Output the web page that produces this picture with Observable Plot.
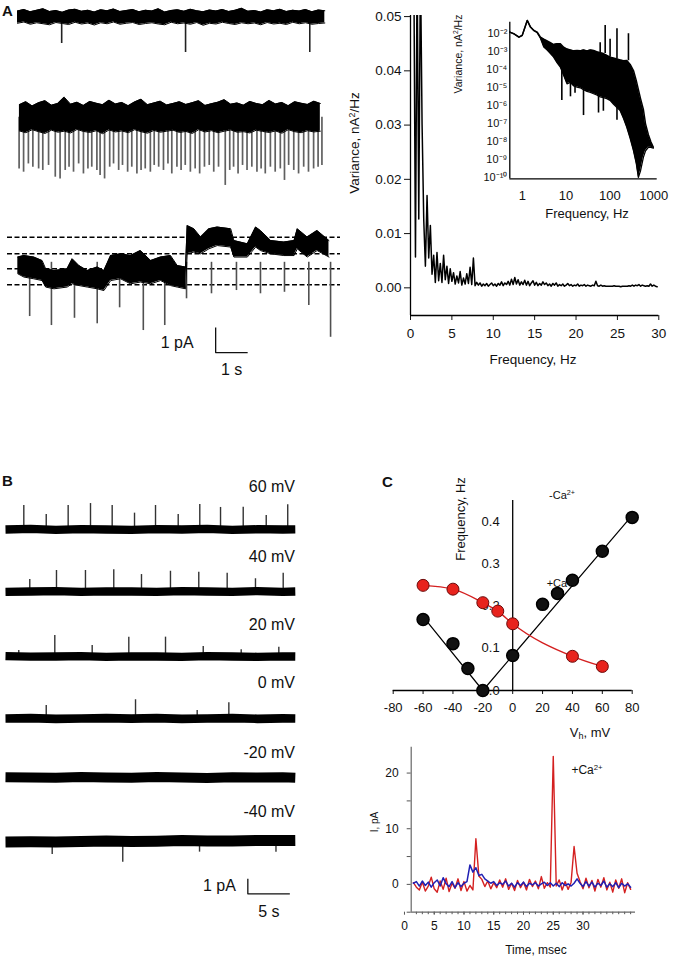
<!DOCTYPE html>
<html><head><meta charset="utf-8">
<script src="https://cdn.jsdelivr.net/npm/d3@7"></script>
<script src="https://cdn.jsdelivr.net/npm/@observablehq/plot@0.6"></script>
<style>
html,body{margin:0;padding:0;background:#fff;}
#page{position:relative;width:675px;height:959px;overflow:hidden;font-family:'Liberation Sans',Arial,Helvetica,sans-serif;color:#111;}
sup{font-size:0.65em;vertical-align:0.5em;line-height:0}
sub{font-size:0.7em;vertical-align:-0.25em;line-height:0}
</style></head><body><div id="page"></div>
<script>
const FONT = "'Liberation Sans', Arial, Helvetica, sans-serif";

// ================= DATA =================
// Panel A, trace 1 (time s, current pA) — envelope of noisy baseline
const a1Start = 0, a1Step = 0.2;
const a1Hi = [0.24,0.30,0.21,0.27,0.33,0.22,0.26,0.19,0.28,0.31,0.23,0.27,0.20,0.29,0.25,0.32,0.22,0.26,0.30,0.21,0.27,0.24,0.33,0.20,0.26,0.29,0.23,0.31,0.25,0.21,0.28,0.24,0.30,0.22,0.27,0.35,0.23,0.26,0.20,0.29,0.25,0.31,0.22,0.27,0.24,0.30,0.21,0.28,0.25];
const a1Lo = [-0.25,-0.20,-0.29,-0.23,-0.27,-0.31,-0.22,-0.26,-0.30,-0.21,-0.28,-0.24,-0.32,-0.23,-0.27,-0.20,-0.29,-0.25,-0.22,-0.30,-0.26,-0.23,-0.28,-0.31,-0.21,-0.27,-0.24,-0.29,-0.22,-0.33,-0.25,-0.28,-0.21,-0.26,-0.30,-0.23,-0.27,-0.24,-0.31,-0.22,-0.28,-0.25,-0.30,-0.21,-0.27,-0.23,-0.29,-0.26,-0.24];
const a1SpikeTime = [1.38, 5.25, 9.13];
const a1SpikeDepth = [-1.06, -1.42, -1.42];

// Panel A, trace 2
const a2Start = 0.06, a2Step = 0.2;
const a2Hi = [0.50,0.62,0.45,0.58,0.66,0.48,0.55,0.80,0.52,0.60,0.47,0.63,0.56,0.50,0.68,0.53,0.59,0.46,0.61,0.72,0.50,0.57,0.64,0.49,0.55,0.62,0.51,0.58,0.66,0.47,0.54,0.60,0.70,0.52,0.57,0.48,0.63,0.55,0.50,0.67,0.53,0.59,0.46,0.62,0.56,0.51,0.64,0.55];
const a2Lo = [-0.55,-0.62,-0.50,-0.58,-0.65,-0.52,-0.60,-0.56,-0.63,-0.49,-0.57,-0.61,-0.54,-0.66,-0.51,-0.59,-0.55,-0.62,-0.50,-0.58,-0.64,-0.53,-0.60,-0.56,-0.52,-0.61,-0.57,-0.65,-0.50,-0.59,-0.54,-0.62,-0.56,-0.51,-0.60,-0.58,-0.63,-0.52,-0.57,-0.61,-0.55,-0.64,-0.50,-0.58,-0.62,-0.54,-0.59,-0.56];
const a2SpikeTime = [0.05,0.19,0.34,0.48,0.66,0.79,0.97,1.18,1.33,1.49,1.61,1.75,1.91,2.06,2.20,2.32,2.48,2.58,2.72,2.88,3.00,3.16,3.28,3.44,3.57,3.73,3.86,3.99,4.15,4.27,4.41,4.56,4.70,4.82,4.98,5.11,5.24,5.40,5.55,5.69,5.84,5.99,6.13,6.28,6.49,6.63,6.75,6.89,7.03,7.17,7.32,7.48,7.61,7.74,7.90,8.05,8.21,8.34,8.47,8.63,8.78,8.94,9.09,9.25,9.39,9.51];
const a2SpikeDepth = [-2.07,-2.2,-1.87,-2.0,-2.07,-2.13,-1.93,-2.4,-2.47,-2.13,-2.0,-2.2,-1.87,-2.27,-2.07,-2.0,-2.13,-2.33,-2.47,-2.0,-1.87,-2.13,-1.93,-2.2,-2.0,-2.27,-2.13,-2.07,-2.2,-1.93,-2.0,-2.13,-1.87,-2.27,-2.0,-2.13,-1.93,-2.2,-2.07,-2.27,-2.0,-1.93,-2.2,-2.0,-2.73,-2.13,-2.0,-2.27,-1.93,-2.13,-2.0,-2.2,-2.07,-2.27,-2.0,-2.2,-2.07,-2.53,-1.93,-2.13,-2.27,-2.0,-2.2,-2.07,-2.0,-1.93];

// Panel A, trace 3 (sub-conductance levels)
const a3Time = [0.01,0.2,0.51,0.77,0.88,1.14,1.55,1.71,1.92,2.18,2.49,2.70,2.91,3.22,3.53,3.84,4.16,4.47,4.78,4.99,5.25,5.30,5.51,5.72,5.98,6.24,6.66,6.76,7.18,7.44,7.59,7.91,8.32,8.64,8.74,9.05,9.36,9.73];
const a3Hi = [1.11,1.17,1.11,0.97,0.64,0.57,0.64,1.04,0.77,0.57,0.71,0.57,1.17,1.24,1.17,1.37,0.97,1.11,1.17,0.77,0.71,2.37,2.24,1.91,2.24,2.31,2.24,1.77,1.64,2.31,2.17,1.77,1.71,1.77,2.24,1.91,2.17,1.77];
const a3Lo = [0.44,0.31,0.24,0.17,-0.09,-0.16,-0.09,0.04,-0.03,-0.09,-0.16,-0.23,0.17,0.24,0.04,0.11,0.04,0.17,-0.03,-0.09,-0.16,1.24,1.31,1.24,1.44,1.57,1.51,1.11,1.11,1.51,1.37,1.24,1.17,1.17,1.44,1.11,1.37,1.11];
const a3Levels = [0, 0.64, 1.24, 1.9];
const a3SpikeTime = [0.38,1.06,1.78,2.49,3.19,3.93,4.6,5.28,6.06,6.84,7.59,8.34,9.1,9.78];
const a3SpikeDepth = [-1.27,-1.63,-1.34,-1.56,-0.92,-1.83,-1.63,-0.56,-0.36,-0.23,-0.36,-0.3,-0.83,-2.1];
const scaleBarA = {t: 6.19, pA: -1.71, dt: 1, dpA: 1, tLabel: "1 s", pLabel: "1 pA"};

// Panel A right: power spectrum (Hz, 1e-3 nA^2/Hz)
const specStart = 0.4, specStep = 0.2;
const specMilli = [60,5.7,60,12.7,60,30,12.5,4.0,17.0,5.5, 11.5,2.5,6.0,1.0,6.5,1.3,4.5,1.0,6.0,1.5, 4.0,0.8,3.5,1.2,2.8,0.7,2.2,0.9,3.0,0.5, 1.8,0.7,2.6,0.8,3.8,0.6,5.5,0.4,1.0,0.5, 0.9,0.3,0.7,0.4,0.8,0.3,0.6,0.9,0.4,0.7, 0.3,0.8,0.5,1.1,0.4,0.9,0.6,1.2,0.5,1.6, 0.6,1.9,0.7,1.5,0.5,1.1,0.6,1.4,0.5,1.2, 0.4,0.9,1.3,0.5,1.0,0.4,0.8,0.5,1.1,0.6, 0.9,0.4,0.7,0.3,0.8,0.5,0.9,0.3,0.6,0.4, 0.7,0.3,0.5,0.8,0.4,0.6,0.3,0.5,0.4,0.7, 0.3,0.5,0.4,0.6,0.3,0.5,0.4,0.3,0.5,0.4, 1.2,0.4,0.3,0.5,0.3,0.4,0.3,0.3,0.3,0.3, 0.3,0.4,0.3,0.3,0.3,0.2,0.3,0.3,0.3,0.3, 0.4,0.3,0.5,0.3,0.5,0.4,0.6,0.3,0.5,0.4, 0.3,0.4,0.3,0.7,0.3,0.5,0.3,0.2];
const specFreqTicks = [0,5,10,15,20,25,30];
const specVarTicks = [0,0.01,0.02,0.03,0.04,0.05];

// Inset: log-log spectrum (Hz, log10 variance)
const insetFreq = [0.52,0.64,0.84,1.0,1.19,1.3,1.54,1.84,2.2,2.6,3.1,3.7,4.4,5.2,6.2,7.4,8.8,10.5,12.5,15,17.8,21,25,30,36,42.5,50,60,71,85,101,120,145,171,205,243,290,345,400,447,500,580,650,755,860,980];
const insetLogHi = [-1.91,-2.0,-2.19,-2.09,-1.54,-1.26,-1.63,-1.82,-1.91,-2.19,-2.3,-2.4,-2.5,-2.6,-2.55,-2.56,-2.75,-2.85,-2.9,-2.95,-2.93,-2.95,-2.9,-2.95,-2.9,-2.93,-3.0,-3.05,-3.1,-3.2,-3.3,-3.35,-3.4,-3.45,-3.5,-3.48,-3.7,-4.04,-4.6,-5.1,-5.6,-6.2,-7.0,-7.6,-8.0,-8.3];
const insetLogLo = [-1.91,-2.0,-2.19,-2.09,-1.54,-1.26,-1.63,-1.82,-1.95,-2.25,-2.74,-2.9,-3.1,-3.3,-3.6,-3.85,-4.3,-4.78,-4.7,-4.9,-4.96,-5.0,-5.1,-5.2,-5.25,-5.33,-5.4,-5.5,-5.55,-5.6,-5.7,-5.9,-6.1,-6.26,-6.7,-7.19,-7.8,-8.48,-9.2,-9.97,-9.6,-8.86,-8.5,-8.3,-8.3,-8.35];
const insetSpikeFreq = [60,78,101,145,265,8,12.6,16,25,55,71,145];
const insetSpikeLogLo = [-3.05,-3.1,-3.3,-3.4,-3.5,-5.7,-5.5,-5.3,-6.54,-6.4,-6.3,-6.8];
const insetSpikeLogHi = [-2.5,-1.54,-2.3,-1.72,-2.0,-4.0,-4.7,-4.9,-5.1,-5.4,-5.5,-6.1];
const insetFreqTicks = [1,10,100,1000];
const insetExpTicks = [-2,-3,-4,-5,-6,-7,-8,-9,-10];
const insetExpLabels = ["10⁻²","10⁻³","10⁻⁴","10⁻⁵","10⁻⁶","10⁻⁷","10⁻⁸","10⁻⁹","10⁻¹⁰"];

// Panel B: traces at holding potentials (time s, pA)
const bVoltLabels = ["60 mV","40 mV","20 mV","0 mV","-20 mV","-40 mV"];
const bDriftTime = [0,3,6,9,12,15,18,21,24,27,30,33,34.5];
const b60Drift = [0.0,0.04,-0.02,0.03,0.0,-0.03,0.02,0.0,0.04,-0.02,0.02,0.0,0.01];
const b40Drift = [-0.03,0.0,0.03,-0.02,0.01,0.0,-0.03,0.02,0.0,-0.02,0.03,-0.02,0.0];
const b20Drift = [0.03,-0.01,0.0,0.03,-0.02,0.01,0.0,-0.03,0.02,0.0,-0.02,0.01,0.0];
const b0Drift = [0.0,0.02,-0.03,0.0,0.03,-0.01,0.02,-0.03,0.0,0.03,-0.02,0.01,0.0];
const bm20Drift = [0.02,0.0,-0.02,0.03,0.0,-0.01,0.03,0.0,-0.03,0.01,0.0,0.02,-0.01];
const bm40Drift = [-0.04,-0.02,-0.03,0.0,0.03,0.0,0.02,0.06,0.04,0.04,0.07,0.06,0.07];
const b60SpikeT = [2.18,4.85,7.46,10.12,12.7,15.36,17.86,20.56,23.13,25.6,28.3,31.04,33.6];
const b60SpikeA = [1.6,1.0,1.6,1.73,1.6,1.09,1.6,1.0,1.67,1.47,1.49,0.93,1.65];
const b40SpikeT = [2.89,6.07,9.52,12.89,16.19,19.64,23.01,26.39,29.76,33.06];
const b40SpikeA = [0.8,1.4,1.4,1.45,1.13,1.35,1.29,1.22,0.85,1.22];
const b20SpikeT = [1.58,5.87,10.32,14.68,19.05,23.54,28.06,32.54];
const b20SpikeA = [0.4,1.4,0.73,1.29,1.29,0.67,0.45,0.62];
const b0SpikeT = [4.85,15.48,22.82,26.59];
const b0SpikeA = [0.87,1.25,0.53,1.05];
const bm20SpikeT = [];
const bm20SpikeA = [];
const bm40SpikeT = [5.56,13.96,23.1,32.2];
const bm40SpikeA = [-0.87,-1.38,-0.71,-0.71];
const scaleBarB = {t: 28.85, pA: -2.49, dt: 5, dpA: 1, tLabel: "5 s", pLabel: "1 pA"};

// Panel C top: event frequency vs holding potential
const cBlackV = [-60,-40,-30,-20,0,20,30,40,60,80];
const cBlackF = [0.168,0.111,0.052,0.0,0.083,0.204,0.23,0.261,0.33,0.41];
const cBlackFitV = [-60,-20,80];
const cBlackFitF = [0.175,0.0,0.415];
const cRedV = [-60,-40,-20,-10,0,40,60];
const cRedF = [0.249,0.24,0.208,0.188,0.158,0.081,0.057];
const cTopXTicks = [-80,-60,-40,-20,0,20,40,60,80];
const cTopYTicks = [0.0,0.1,0.2,0.3,0.4];

// Panel C bottom: single events (ms, pA)
const cTraceStart = 1.5, cTraceStep = 0.5;
const cRed = [0.3,-0.5,-1.0,0.4,-1.2,-0.3,1.3,-0.8,-1.4,0.6,-0.9,1.1,-1.3,0.2,-0.7,1.0,-1.1,0.5,-1.2,-0.2,-1.0,8.2,1.5,0.9,-0.4,0.6,-0.8,0.3,-0.6,0.8,-0.5,1.0,-0.9,0.2,-1.1,0.7,-0.6,0.4,-1.0,0.9,-0.4,0.6,-0.8,1.4,-0.7,0.3,-0.5,23.0,-0.3,0.8,-1.0,0.5,-0.9,0.4,6.8,2.0,0.5,-0.8,1.1,-0.6,0.7,-1.2,0.9,-0.5,1.2,-1.0,0.4,-1.4,0.8,-0.7,1.0,-1.5,0.3,-0.9];
const cBlue = [0.2,0.5,-0.3,0.6,-0.2,0.4,-0.5,0.3,0.8,-0.3,1.2,0.1,-0.4,0.5,-0.6,0.3,-0.4,0.2,0.5,3.5,2.2,3.0,1.6,1.8,1.0,0.6,0.2,0.5,-0.2,0.3,0.0,0.6,-0.3,0.2,-0.5,0.3,-0.2,0.4,-0.4,0.2,-0.1,0.3,-0.3,0.1,0.4,-0.2,0.3,-0.3,0.2,-0.4,0.3,-0.2,0.1,-0.3,0.2,1.0,0.2,-0.4,0.5,-0.3,0.4,-0.5,0.2,-0.2,0.6,-0.5,0.1,-0.4,0.3,-0.6,0.2,-0.3,0.1,-0.5];
const cBotXTicks = [0,5,10,15,20,25,30];
const cBotYTicks = [-5,0,5,10,15,20];

// ================= HELPERS =================
const page = document.getElementById("page");
function addLabel(html, x, y, {size = 13, anchor = "middle", rotate = 0, weight = "normal", z = 0} = {}) {
  const d = document.createElement("div");
  d.innerHTML = html;
  Object.assign(d.style, {position: "absolute", left: x + "px", top: y + "px", fontSize: size + "px",
    fontWeight: weight, whiteSpace: "nowrap", lineHeight: "1", color: "#111", zIndex: z});
  const tx = anchor === "start" ? "0" : anchor === "end" ? "-100%" : "-50%";
  d.style.transform = `translate(${tx}, -50%)` + (rotate ? ` rotate(${rotate}deg)` : "");
  page.appendChild(d);
}
function placePlot(opts, left, top, fontSize = 13) {
  const svg = Plot.plot({...opts, style: {fontFamily: FONT, fontSize: fontSize + "px", color: "#111", background: "transparent", overflow: "visible"}});
  Object.assign(svg.style, {position: "absolute", left: left + "px", top: top + "px", zIndex: 1,
    background: "transparent", overflow: "visible", maxWidth: "none"});
  page.appendChild(svg);
  return svg;
}
const envelope = (start, step, hi, lo) => hi.map((h, i) => ({t: start + i * step, hi: h, lo: lo[i]}));
const envelopeT = (time, hi, lo) => time.map((t, i) => ({t, hi: hi[i], lo: lo[i]}));
const spikes = (time, amp) => time.map((t, i) => ({t, amp: amp[i]}));
const barPath = b => [{t: b.t, p: b.pA}, {t: b.t, p: b.pA - b.dpA}, {t: b.t + b.dt, p: b.pA - b.dpA}];

// ================= PANEL A: traces =================
const aXDomain = [-0.3125, 10.09];
function bandMarks(env) {
  return [
    Plot.areaY(env, {x: "t", y1: "lo", y2: "hi", fill: "#000"}),
    Plot.line(env, {x: "t", y: "hi", stroke: "#000", strokeWidth: 1}),
    Plot.line(env, {x: "t", y: "lo", stroke: "#000", strokeWidth: 1})
  ];
}
placePlot({width: 333, height: 60, margin: 0,
  x: {domain: aXDomain, axis: null}, y: {domain: [-1.74, 0.66], axis: null},
  marks: [
    Plot.ruleX(spikes(a1SpikeTime, a1SpikeDepth), {x: "t", y1: 0, y2: "amp", stroke: "#222", strokeWidth: 1.6}),
    ...bandMarks(envelope(a1Start, a1Step, a1Hi, a1Lo))
  ]}, 7, 0);

placePlot({width: 333, height: 100, margin: 0,
  x: {domain: aXDomain, axis: null}, y: {domain: [-2.732, 1.268], axis: null},
  marks: [
    Plot.ruleX(spikes(a2SpikeTime, a2SpikeDepth), {x: "t", y1: 0, y2: "amp", stroke: "#606060", strokeWidth: 1.7}),
    ...bandMarks(envelope(a2Start, a2Step, a2Hi, a2Lo))
  ]}, 7, 85);

placePlot({width: 333, height: 160, margin: 0,
  x: {domain: aXDomain, axis: null}, y: {domain: [-3.828, 2.572], axis: null},
  marks: [
    Plot.ruleY(a3Levels, {stroke: "#000", strokeWidth: 1.5, strokeDasharray: "5,2.5"}),
    Plot.ruleX(spikes(a3SpikeTime, a3SpikeDepth), {x: "t", y1: 0.9, y2: "amp", stroke: "#505050", strokeWidth: 1.6}),
    ...bandMarks(envelopeT(a3Time, a3Hi, a3Lo)),
    Plot.line(barPath(scaleBarA), {x: "t", y: "p", stroke: "#111", strokeWidth: 1.3, strokeLinecap: "butt"}),
    Plot.text([scaleBarA], {x: "t", y: d => d.pA - d.dpA / 2, text: "pLabel", textAnchor: "end", dx: -22, dy: 3, fontSize: 16}),
    Plot.text([scaleBarA], {x: d => d.t + d.dt / 2, y: d => d.pA - d.dpA, text: "tLabel", dy: 17, fontSize: 16})
  ]}, 7, 220);

// ================= PANEL A: spectrum =================
const specData = specMilli.map((v, i) => ({f: specStart + i * specStep, v: v / 1000}));
const specXDomain = [0, 30], specYDomain = [-0.0051, 0.0502];
placePlot({width: 335, height: 375, marginLeft: 70, marginRight: 16.7, marginTop: 15, marginBottom: 60,
  x: {domain: specXDomain, axis: null, label: null}, y: {domain: specYDomain, axis: null, label: null},
  marks: [
    Plot.axisX({ticks: specFreqTicks, tickSize: 5, tickPadding: 8, tickFormat: d => String(d), label: null, fontSize: 13.5}),
    Plot.axisY({ticks: specVarTicks, tickSize: 6, tickPadding: 3, tickFormat: d3.format(".2f"), label: null, fontSize: 13.5}),
    Plot.ruleX([specXDomain[0]], {stroke: "#000", strokeWidth: 1.3}),
    Plot.ruleY([specYDomain[0]], {stroke: "#000", strokeWidth: 1.3}),
    Plot.line(specData, {x: "f", y: "v", stroke: "#000", strokeWidth: 1.5, clip: true})
  ]}, 340, 0);

// inset
const insetData = insetFreq.map((f, i) => ({f, hi: 10 ** insetLogHi[i], lo: 10 ** insetLogLo[i]}));
const insetSpk = insetSpikeFreq.map((f, i) => ({f, lo: 10 ** insetSpikeLogLo[i], hi: 10 ** insetSpikeLogHi[i]}));
const insetXDomain = [0.52, 1200], insetYDomain = [10 ** -10.05, 10 ** -1.36];
const expLabel = new Map(insetExpTicks.map((e, i) => [e, insetExpLabels[i]]));
placePlot({width: 215, height: 230, marginLeft: 49.3, marginRight: 18.3, marginTop: 21.7, marginBottom: 51.7,
  x: {type: "log", domain: insetXDomain, axis: null, label: null},
  y: {type: "log", domain: insetYDomain, axis: null, label: null},
  marks: [
    Plot.axisX({ticks: insetFreqTicks, tickSize: 0, tickPadding: 12, tickFormat: d => String(d), label: null, fontSize: 13}),
    Plot.axisY({ticks: insetExpTicks.map(e => 10 ** e), tickSize: 0, tickPadding: 2.5,
      tickFormat: d => expLabel.get(Math.round(Math.log10(d))), label: null, fontSize: 11}),
    Plot.ruleX([insetXDomain[0]], {stroke: "#000", strokeWidth: 1.3}),
    Plot.ruleY([insetYDomain[0]], {stroke: "#000", strokeWidth: 1.3}),
    Plot.areaY(insetData, {x: "f", y1: "lo", y2: "hi", fill: "#000"}),
    Plot.line(insetData, {x: "f", y: "hi", stroke: "#000", strokeWidth: 1.5}),
    Plot.line(insetData, {x: "f", y: "lo", stroke: "#000", strokeWidth: 1.3}),
    Plot.ruleX(insetSpk, {x: "f", y1: "lo", y2: "hi", stroke: "#000", strokeWidth: 1.6})
  ]}, 460, 0);

// ================= PANEL B =================
const bXDomain = [-0.595, 35.12];
const bTraces = [
  {drift: b60Drift, st: b60SpikeT, sa: b60SpikeA, top: 499, h: 60, dom: [-2, 2], w: 8.3},
  {drift: b40Drift, st: b40SpikeT, sa: b40SpikeA, top: 561, h: 60, dom: [-2, 2], w: 8.3},
  {drift: b20Drift, st: b20SpikeT, sa: b20SpikeA, top: 626, h: 60, dom: [-2, 2], w: 8.3},
  {drift: b0Drift, st: b0SpikeT, sa: b0SpikeA, top: 688, h: 60, dom: [-2, 2], w: 8.7},
  {drift: bm20Drift, st: bm20SpikeT, sa: bm20SpikeA, top: 746.7, h: 60, dom: [-2, 2], w: 10},
  {drift: bm40Drift, st: bm40SpikeT, sa: bm40SpikeA, top: 811, h: 115, dom: [-5.667, 2], w: 11, bar: scaleBarB}
];
bTraces.forEach(tr => {
  const line = bDriftTime.map((t, i) => ({t, p: tr.drift[i]}));
  const marks = [
    Plot.ruleX(spikes(tr.st, tr.sa), {x: "t", y1: 0, y2: "amp", stroke: "#333", strokeWidth: 1.4}),
    Plot.line(line, {x: "t", y: "p", stroke: "#000", strokeWidth: tr.w, strokeLinecap: "butt"})
  ];
  if (tr.bar) {
    marks.push(
      Plot.line(barPath(tr.bar), {x: "t", y: "p", stroke: "#111", strokeWidth: 1.3, strokeLinecap: "butt"}),
      Plot.text([tr.bar], {x: "t", y: d => d.pA - d.dpA / 2, text: "pLabel", textAnchor: "end", dx: -12, dy: 0, fontSize: 16}),
      Plot.text([tr.bar], {x: d => d.t + d.dt / 2, y: d => d.pA - d.dpA, text: "tLabel", dy: 18, fontSize: 16})
    );
  }
  placePlot({width: 300, height: tr.h, margin: 0,
    x: {domain: bXDomain, axis: null}, y: {domain: tr.dom, axis: null}, marks}, 0, tr.top);
});

// ================= PANEL C top =================
const cBlack = cBlackV.map((v, i) => ({v, f: cBlackF[i]}));
const cBlackFit = cBlackFitV.map((v, i) => ({v, f: cBlackFitF[i]}));
const cRedPts = cRedV.map((v, i) => ({v, f: cRedF[i]}));
const cTopYDomain = [0, 0.45];
placePlot({width: 295, height: 270, marginLeft: 12.7, marginRight: 43.3, marginTop: 30, marginBottom: 50,
  x: {domain: [-80, 80], axis: null, label: null}, y: {domain: cTopYDomain, axis: null, label: null},
  marks: [
    Plot.axisX({ticks: cTopXTicks, tickSize: 4, tickPadding: 8.5, tickFormat: d => String(d), label: null, fontSize: 13}),
    Plot.ruleY([cTopYDomain[0]], {stroke: "#000", strokeWidth: 1.3}),
    Plot.ruleX([0], {stroke: "#000", strokeWidth: 1.3}),
    Plot.text(cTopYTicks, {x: d => 0, y: d => d, text: d => d.toFixed(1), textAnchor: "end", dx: -13, fontSize: 13}),
    Plot.line(cBlackFit, {x: "v", y: "f", stroke: "#000", strokeWidth: 1.2}),
    Plot.line(cRedPts, {x: "v", y: "f", curve: "monotone-x", stroke: "#d42020", strokeWidth: 1.4}),
    Plot.dot(cBlack, {x: "v", y: "f", r: 6, fill: "#111", stroke: "#000"}),
    Plot.dot(cRedPts, {x: "v", y: "f", r: 6, fill: "#e8231d", stroke: "#6b0a0a", strokeWidth: 1})
  ]}, 380, 470);

// ================= PANEL C bottom =================
const cRedT = cRed.map((v, i) => ({t: cTraceStart + i * cTraceStep, v}));
const cBlueT = cBlue.map((v, i) => ({t: cTraceStart + i * cTraceStep, v}));
const cBotXDomain = [1.13, 38.82], cBotYDomain = [-5, 24.65];
placePlot({width: 295, height: 224, marginLeft: 30.7, marginRight: 40, marginTop: 11.7, marginBottom: 47.3,
  x: {domain: cBotXDomain, axis: null, label: null}, y: {domain: cBotYDomain, axis: null, label: null},
  marks: [
    Plot.axisX({ticks: cBotXTicks, tickSize: 3, tickPadding: 6, tickFormat: d => String(d), label: null, fontSize: 12, stroke: "#555"}),
    Plot.axisX({ticks: d3.range(2, 39), tickSize: 2.5, tickFormat: () => "", label: null, stroke: "#555"}),
    Plot.axisY({ticks: cBotYTicks, tickSize: 4, tickPadding: 8.5, tickFormat: d => (d >= 0 && d % 10 === 0) ? String(d) : "", label: null, fontSize: 12, stroke: "#555"}),
    Plot.ruleX([cBotXDomain[0]], {stroke: "#666", strokeWidth: 1.2}),
    Plot.ruleY([cBotYDomain[0]], {stroke: "#666", strokeWidth: 1.2}),
    Plot.line(cRedT, {x: "t", y: "v", stroke: "#d42020", strokeWidth: 1.4}),
    Plot.line(cBlueT, {x: "t", y: "v", stroke: "#2020b4", strokeWidth: 1.5})
  ]}, 380, 735);

// ================= TEXT LABELS =================
addLabel("A", 2, 10, {size: 15, weight: "bold", anchor: "start"});
addLabel("B", 2, 480, {size: 15, weight: "bold", anchor: "start"});
addLabel("C", 382, 481, {size: 15, weight: "bold", anchor: "start"});
addLabel("Variance, nA<sup>2</sup>/Hz", 355, 143, {size: 13.5, rotate: -90});
addLabel("Frequency, Hz", 533, 360, {size: 13.5});
addLabel("Variance, nA<sup>2</sup>/Hz", 458, 54, {size: 10.5, rotate: -90});
addLabel("Frequency, Hz", 587, 213, {size: 13});
const bLabelY = [487, 557, 625, 683, 753, 812];
bVoltLabels.forEach((s, i) => addLabel(s, 295, bLabelY[i], {size: 16, anchor: "end"}));
addLabel("Frequency, Hz", 460, 519, {size: 13, rotate: -90});
addLabel("-Ca<sup>2+</sup>", 562, 495, {size: 11});
addLabel("+Ca<sup>2+</sup>", 561, 583, {size: 11});
addLabel("V<sub>h</sub>, mV", 590, 732, {size: 13});
addLabel("+Ca<sup>2+</sup>", 587, 770, {size: 12});
addLabel("I, pA", 375, 822, {size: 10, rotate: -90});
addLabel("Time, msec", 536, 950, {size: 12});
</script></body></html>
